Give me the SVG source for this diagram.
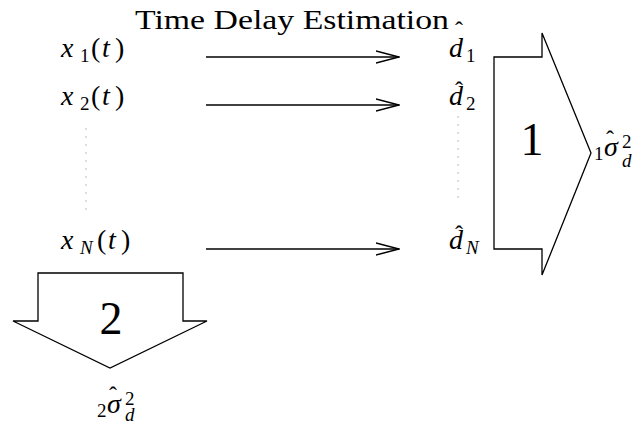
<svg xmlns="http://www.w3.org/2000/svg" width="641" height="426" viewBox="0 0 641 426">
<style>
text{font-family:"Liberation Serif","DejaVu Serif",serif;fill:#000;font-size:28px}
.i{font-style:italic}
.s{font-size:19px;font-style:normal}
.si{font-size:19px;font-style:italic}
.h{font-size:24px;font-style:normal}
.big{font-size:46px}
.c{stroke:#000;stroke-width:1.3;fill:none}
.dot{stroke:#bbb;stroke-width:1;stroke-dasharray:2 6;fill:none}
</style>
<defs>
<marker id="v" viewBox="0 0 24 14" refX="23" refY="7" markerWidth="24" markerHeight="14" markerUnits="userSpaceOnUse" orient="auto">
<path d="M0,1 L23,7 L0,13" fill="none" stroke="#000" stroke-width="1.3"/>
</marker>
</defs>
<rect width="641" height="426" fill="#fff"/>
<g id="title"><text x="135" y="29" font-size="26" textLength="314" lengthAdjust="spacingAndGlyphs">Time Delay Estimation</text></g>
<g id="inputs">
<text y="57"><tspan x="61" class="i">x</tspan><tspan x="80" y="62" class="s">1</tspan><tspan x="91" y="57">(</tspan><tspan x="102" class="i">t</tspan><tspan x="115">)</tspan></text>
<text y="105"><tspan x="61" class="i">x</tspan><tspan x="80" y="110" class="s">2</tspan><tspan x="91" y="105">(</tspan><tspan x="102" class="i">t</tspan><tspan x="115">)</tspan></text>
<text y="249"><tspan x="61" class="i">x</tspan><tspan x="80" y="254" class="si">N</tspan><tspan x="97" y="249">(</tspan><tspan x="108" class="i">t</tspan><tspan x="121">)</tspan></text>
<path class="dot" d="M86,128 V212"/>
</g>
<g id="connectors">
<path class="c" d="M206,57 H399" marker-end="url(#v)"/>
<path class="c" d="M206,105 H399" marker-end="url(#v)"/>
<path class="c" d="M206,249 H399" marker-end="url(#v)"/>
</g>
<g id="estimates">
<text y="57"><tspan x="449" class="i">d</tspan><tspan x="455" y="38" class="h">ˆ</tspan><tspan x="466" y="62" class="s">1</tspan></text>
<text y="105"><tspan x="449" class="i">d</tspan><tspan x="455" y="98" class="h">ˆ</tspan><tspan x="466" y="110" class="s">2</tspan></text>
<text y="249"><tspan x="449" class="i">d</tspan><tspan x="455" y="242" class="h">ˆ</tspan><tspan x="466" y="254" class="si">N</tspan></text>
<path class="dot" d="M458,116 V201"/>
</g>
<g id="block1">
<path class="c" d="M494,57 H542 V33 L591,153 L542,275 V249 H494 Z"/>
<text x="532" y="155" class="big" text-anchor="middle">1</text>
</g>
<g id="block2">
<path class="c" d="M38,273 H183 V321 H207 L110,368 L13,321 H38 Z"/>
<text x="111" y="334" class="big" text-anchor="middle">2</text>
</g>
<g id="out1">
<text y="156"><tspan x="594" y="160" class="s">1</tspan><tspan x="604" y="156" class="i">σ</tspan><tspan x="606" y="147" class="h">ˆ</tspan><tspan x="622" y="148" class="s">2</tspan><tspan x="622" y="167" class="si">d</tspan></text>
</g>
<g id="out2">
<text y="413"><tspan x="97" y="417" class="s">2</tspan><tspan x="107" y="413" class="i">σ</tspan><tspan x="109" y="403" class="h">ˆ</tspan><tspan x="125" y="405" class="s">2</tspan><tspan x="125" y="421" class="si">d</tspan></text>
</g>
</svg>
